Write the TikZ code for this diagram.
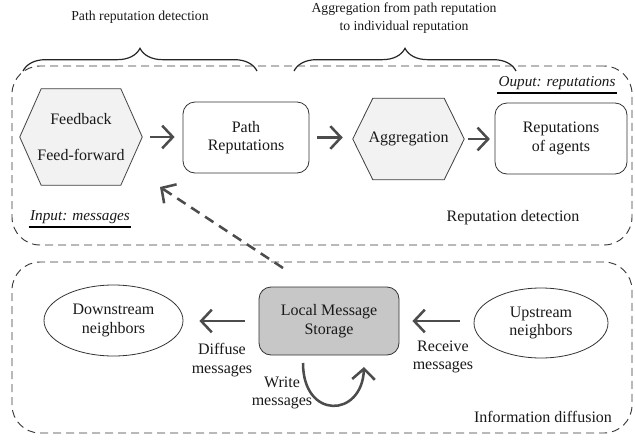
\documentclass[tikz,border=0pt]{standalone}
\usepackage{fontspec}
\setmainfont{Liberation Serif}
\usetikzlibrary{arrows.meta,calc,decorations.pathreplacing,shapes.geometric}
\pgfdeclarelayer{background}
\pgfsetlayers{background,main}

% hexagon with flat top and bottom, drawn around a named node
\newcommand{\hexaround}[2]{%
  \begin{pgfonlayer}{background}
    \draw[hexfill] (#1.west)
      -- ($(#1.north west)!#2!(#1.north east)$)
      -- ($(#1.north east)!#2!(#1.north west)$)
      -- (#1.east)
      -- ($(#1.south east)!#2!(#1.south west)$)
      -- ($(#1.south west)!#2!(#1.south east)$)
      -- cycle;
  \end{pgfonlayer}}

\begin{document}
\begin{tikzpicture}[x=0.75pt,y=-0.75pt,
  every node/.style={font=\fontsize{12}{14}\selectfont, align=center, text=black!90},
  caption/.style={font=\fontsize{10.3}{13.5}\selectfont},
  region/.style={draw=black!78, dash pattern=on 6pt off 3.75pt, rounded corners=21pt,
    line width=0.7pt, inner sep=0pt},
  hexfill/.style={draw=black!75, fill=gray!10, line width=0.6pt},
  hexnode/.style={inner sep=0pt},
  roundbox/.style={draw=black!80, rounded corners=9pt, line width=0.6pt, inner sep=0pt},
  oval/.style={draw=black!80, ellipse, line width=0.6pt, inner sep=0pt},
  flow/.style={draw=black!70, line width=1.9pt,
    -{Straight Barb[length=8pt,width=17pt,line width=1.9pt]}},
  feedback/.style={flow, dash pattern=on 7.5pt off 5pt},
  bracket/.style={draw=black!85, line width=0.9pt,
    decorate, decoration={brace, amplitude=17pt}},
  tag/.style={font=\fontsize{11.4}{14}\selectfont\itshape, inner sep=1pt},
  underl/.style={draw=black, line width=1.5pt}
]
\useasboundingbox (0,0) rectangle (635,439);

% ---- braces and their captions ----
\coordinate (bla) at (23,71);
\coordinate (blb) at (257,71);
\coordinate (bra) at (294,71);
\coordinate (brb) at (516,71);
\draw[bracket] (bla) -- (blb);
\draw[bracket] (bra) -- (brb);
\node[caption] (capl) at (140,17) {Path reputation detection};
\node[caption] (capr) at (404,18) {Aggregation from path reputation\\to individual reputation};

% ---- dashed regions ----
\node[region, minimum width=465pt, minimum height=134.25pt] (detect) at (322,155.5) {};
\node[region, minimum width=465pt, minimum height=128.25pt] (diffuse) at (322,347.5) {};

% ---- reputation detection ----
\node[hexnode, minimum width=91.5pt, minimum height=72pt] (fb) at (81,137)
  {Feedback\\[13pt]Feed-forward};
\hexaround{fb}{0.175}
\node[roundbox, minimum width=94.5pt, minimum height=53.25pt] (path) at (246,137.5)
  {Path\\Reputations};
\node[hexnode, minimum width=83.25pt, minimum height=60.75pt] (agg) at (408.5,139)
  {Aggregation};
\hexaround{agg}{0.18}
\node[roundbox, minimum width=99pt, minimum height=53.25pt] (rep) at (561,138.5)
  {Reputations\\of agents};

\draw[flow, shorten <=6pt, shorten >=6pt] (fb.east) -- (fb.east -| path.west);
\draw[flow, shorten <=6pt, shorten >=7.5pt] (path.east) -- (path.east -| agg.west);
\draw[flow, shorten <=2.5pt, shorten >=3.5pt] (agg.east) -- (agg.east -| rep.west);

\node[tag] (inp) at (80,217) {Input: messages};
\draw[underl] ([yshift=-1pt]inp.south west) -- ([yshift=-1pt]inp.south east);
\node[tag] (outp) at (557,83) {Ouput: reputations};
\draw[underl] ([yshift=-1pt]outp.south west) -- ([yshift=-1pt]outp.south east);
\node (rdlab) at (513,218) {Reputation detection};

% ---- information diffusion ----
\node[oval, minimum width=104.25pt, minimum height=53.25pt] (down) at (113.5,320.5)
  {Downstream\\neighbors};
\node[roundbox, fill=black!22, minimum width=105pt, minimum height=51pt] (store) at (329,321)
  {Local Message\\Storage};
\node[oval, minimum width=100.5pt, minimum height=52.5pt] (up) at (541,323)
  {Upstream\\neighbors};

\draw[flow, shorten <=10.5pt, shorten >=12pt] (store.west) -- (store.west -| down.east);
\draw[flow, shorten <=10.5pt, shorten >=9.75pt] (store.east -| up.west) -- (store.east);

\coordinate (wa) at (303,363);
\coordinate (wb) at (364,367);
\draw[flow] (wa) .. controls (303,420) and (362,418) .. (wb);

\node (dlab) at (222,360) {Diffuse\\messages};
\node (rlab) at (443,357) {Receive\\messages};
\node (wlab) at (282,393) {Write\\messages};
\node (idlab) at (543,417) {Information diffusion};

% ---- messages fed back to detection ----
\coordinate (fsrc) at (283,268);
\coordinate (fdst) at (160,187);
\draw[feedback] (fsrc) -- (fdst);
\end{tikzpicture}
\end{document}
